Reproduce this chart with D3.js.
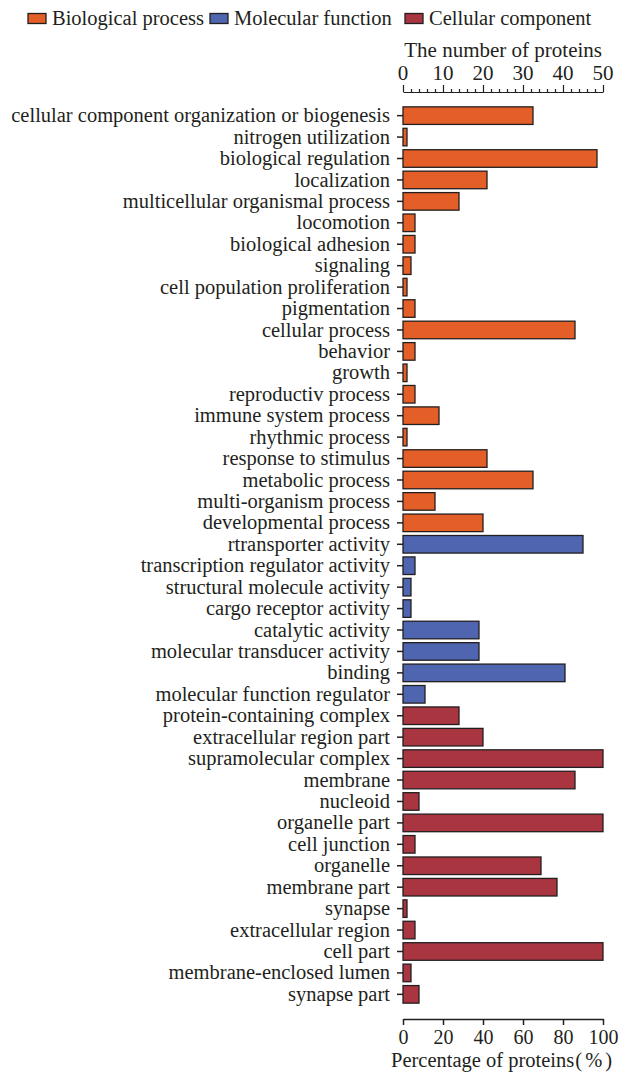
<!DOCTYPE html>
<html>
<head>
<meta charset="utf-8">
<script src="https://cdn.jsdelivr.net/npm/d3@7"></script>
<style>
    body { margin: 0; background: #fff; }
    text { font-family: "Liberation Serif", "Times New Roman", serif; fill: #231f20; }
</style>
</head>
<body>
<div id="chart"></div>
<script>
// GO terms per category, values are percentage of proteins
const bpTerms = [
    'cellular component organization or biogenesis', 'nitrogen utilization', 'biological regulation',
    'localization', 'multicellular organismal process', 'locomotion', 'biological adhesion',
    'signaling', 'cell population proliferation', 'pigmentation', 'cellular process', 'behavior',
    'growth', 'reproductiv process', 'immune system process', 'rhythmic process',
    'response to stimulus', 'metabolic process', 'multi-organism process', 'developmental process'
];
const bpValues = [65, 2, 97, 42, 28, 6, 6, 4, 2, 6, 86, 6, 2, 6, 18, 2, 42, 65, 16, 40];

const mfTerms = [
    'rtransporter activity', 'transcription regulator activity', 'structural molecule activity',
    'cargo receptor activity', 'catalytic activity', 'molecular transducer activity', 'binding',
    'molecular function regulator'
];
const mfValues = [90, 6, 4, 4, 38, 38, 81, 11];

const ccTerms = [
    'protein-containing complex', 'extracellular region part', 'supramolecular complex', 'membrane',
    'nucleoid', 'organelle part', 'cell junction', 'organelle', 'membrane part', 'synapse',
    'extracellular region', 'cell part', 'membrane-enclosed lumen', 'synapse part'
];
const ccValues = [28, 40, 100, 86, 8, 100, 6, 69, 77, 2, 6, 100, 4, 8];

const groupNames = ['Biological process', 'Molecular function', 'Cellular component'];
const groupColors = ['#e35f27', '#4f65af', '#a93541'];

const percentTicks = [0, 20, 40, 60, 80, 100];
const countTicks = [0, 10, 20, 30, 40, 50];

function buildRows() {
    const rows = [];
    [[bpTerms, bpValues], [mfTerms, mfValues], [ccTerms, ccValues]].forEach(([terms, values], g) => {
        terms.forEach((t, i) => rows.push({ term: t, value: values[i], group: g }));
    });
    return rows;
}

function renderChart() {
    const width = 624;
    const height = 1076;
    const rows = buildRows();

    const svg = d3.select('#chart').append('svg')
        .attr('width', width)
        .attr('height', height);

    const x = d3.scaleLinear().domain([0, 100]).range([403, 603]);
    const xCount = d3.scaleLinear().domain([0, 50]).range([403, 603]);
    const y = d3.scaleBand()
        .domain(rows.map(d => d.term))
        .range([103, 1007])
        .padding(0.18);

    // bars
    svg.selectAll('.bar')
        .data(rows)
        .enter().append('rect')
        .attr('class', 'bar')
        .attr('x', x(0))
        .attr('y', d => y(d.term))
        .attr('width', d => x(d.value) - x(0))
        .attr('height', y.bandwidth())
        .attr('fill', d => groupColors[d.group])
        .attr('stroke', '#231f20')
        .attr('stroke-width', 1.3);

    // category axis, ticks only
    const yAxis = svg.append('g')
        .attr('transform', `translate(${x(0)},0)`)
        .call(d3.axisLeft(y).tickSize(6).tickPadding(7));
    yAxis.select('.domain').remove();
    yAxis.selectAll('line').attr('stroke', '#231f20').attr('stroke-width', 1.5);
    yAxis.selectAll('text')
        .attr('fill', '#231f20')
        .style('font-size', '20.5px')
        .style('font-family', '"Liberation Serif", serif');

    // bottom percentage axis
    const bottom = svg.append('g')
        .attr('transform', 'translate(0,1019)')
        .call(d3.axisBottom(x).tickValues(percentTicks).tickSize(6).tickPadding(5).tickSizeOuter(0));
    bottom.selectAll('line, path').attr('stroke', '#231f20').attr('stroke-width', 1.5);
    bottom.selectAll('text')
        .attr('fill', '#231f20')
        .style('font-size', '20px')
        .style('font-family', '"Liberation Serif", serif');

    const bottomTitle = svg.append('text')
        .attr('x', 391)
        .attr('y', 1067)
        .style('font-size', '20.5px');
    bottomTitle.append('tspan').text('Percentage of proteins');
    bottomTitle.append('tspan').attr('dx', 1).text('(');
    bottomTitle.append('tspan').attr('dx', 3).text('%');
    bottomTitle.append('tspan').attr('dx', 3).text(')');

    // top count axis with minor ticks every 2
    const top = svg.append('g').attr('transform', 'translate(0,92)');
    top.call(d3.axisTop(xCount).ticks(25).tickSize(3).tickFormat('').tickSizeOuter(0));
    top.selectAll('.tick')
        .filter(d => d % 10 === 0)
        .select('line').attr('y2', -7);
    top.selectAll('line, path').attr('stroke', '#231f20').attr('stroke-width', 1.2);

    svg.selectAll('.countLabel')
        .data(countTicks)
        .enter().append('text')
        .attr('class', 'countLabel')
        .attr('x', d => xCount(d))
        .attr('y', 80)
        .attr('text-anchor', 'middle')
        .style('font-size', '21px')
        .text(d => d);

    svg.append('text')
        .attr('x', 602)
        .attr('y', 57)
        .attr('text-anchor', 'end')
        .style('font-size', '21px')
        .text('The number of proteins');

    // legend
    const legendX = [28, 210, 405];
    const legend = svg.selectAll('.legend')
        .data(groupNames)
        .enter().append('g')
        .attr('class', 'legend')
        .attr('transform', (d, i) => `translate(${legendX[i]},0)`);
    legend.append('rect')
        .attr('x', 0)
        .attr('y', 13.5)
        .attr('width', 18)
        .attr('height', 10)
        .attr('fill', (d, i) => groupColors[i])
        .attr('stroke', '#231f20')
        .attr('stroke-width', 1.3);
    legend.append('text')
        .attr('x', 24)
        .attr('y', 25)
        .style('font-size', '20.5px')
        .text(d => d);
}

document.addEventListener('DOMContentLoaded', renderChart);
</script>
</body>
</html>
